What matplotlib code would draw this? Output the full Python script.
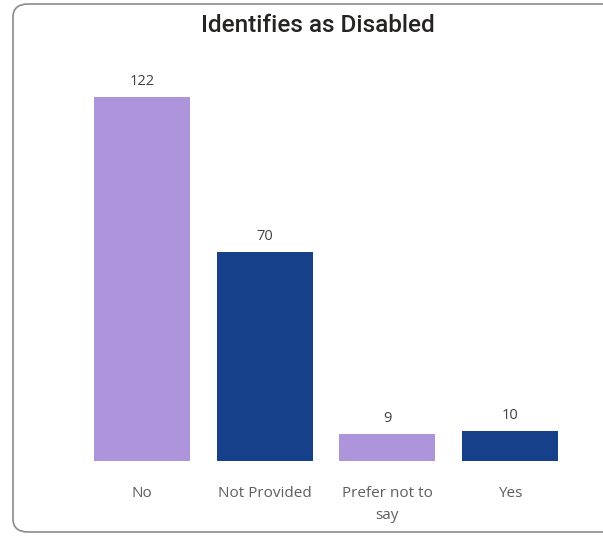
import matplotlib.pyplot as plt
from matplotlib.patches import FancyBboxPatch

# data
categories = ['No', 'Not Provided', 'Prefer not to\nsay', 'Yes']
counts = [122, 70, 9, 10]
bar_colors = ['#AD94DB', '#16418A', '#AD94DB', '#16418A']

W, H = 603, 536
fig = plt.figure(figsize=(W / 100, H / 100), dpi=100)

# card outline (right edge runs off the picture)
card = FancyBboxPatch((13 / W, 4 / H), 640 / W, 528 / H,
                      boxstyle='round,pad=0,rounding_size=0.025',
                      transform=fig.transFigure, facecolor='white',
                      edgecolor='#8A8A8A', linewidth=1.2, zorder=-5)
fig.patches.append(card)

ax = fig.add_axes([80.6 / W, (H - 461) / H, (571.4 - 80.6) / W, 388 / H])
ax.set_zorder(2)
ax.set_facecolor('none')
x = range(len(categories))
bars = ax.bar(x, counts, width=0.78, color=bar_colors)
ax.set_xlim(-0.5, len(categories) - 0.5)
ax.set_ylim(0, 130)

for b, v in zip(bars, counts):
    ax.text(b.get_x() + b.get_width() / 2, v + 2.8, str(v), ha='center', va='bottom',
            fontsize=10.5, color='#404040', family='Open Sans')

ax.set_xticks(list(x))
ax.set_xticklabels(categories, fontsize=11, color='#605E5C', family='Open Sans',
                   linespacing=1.6)
ax.tick_params(axis='x', length=0, pad=18)
ax.set_yticks([])
for s in ax.spines.values():
    s.set_visible(False)

fig.text(318 / W, 1 - 26 / H, 'Identifies as Disabled', ha='center', va='center',
         fontsize=17.5, color='#252423', family='Roboto', fontweight='medium')

fig.savefig('out.png', dpi=100)
